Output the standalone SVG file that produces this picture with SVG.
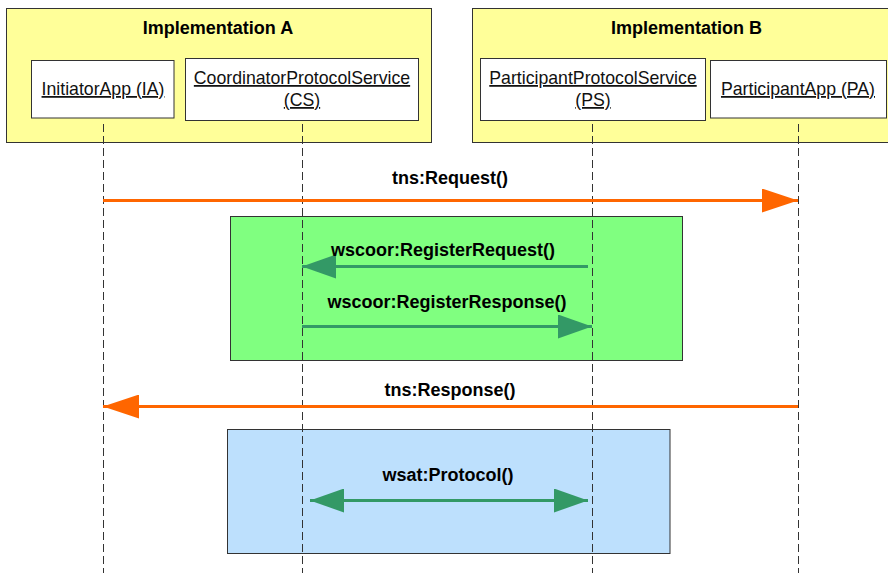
<svg xmlns="http://www.w3.org/2000/svg" width="888" height="573" viewBox="0 0 888 573">
<style>
.frame{fill:#FFFF99;stroke:#333;stroke-width:1}
.box{fill:#fff;stroke:#333;stroke-width:1}
.title{font-family:"Liberation Sans",Arial,sans-serif;font-weight:bold;font-size:18px;text-anchor:middle;fill:#000}
.lbl{font-family:"Liberation Sans",Arial,sans-serif;font-size:17.7px;text-anchor:middle;fill:#111;text-decoration:underline}
.msg{font-family:"Liberation Sans",Arial,sans-serif;font-weight:bold;font-size:18px;text-anchor:middle;fill:#000}
.life{stroke:#333;stroke-width:1;stroke-dasharray:8 4;fill:none}
.orange{stroke:#FF6600;stroke-width:3;fill:none}
.green{stroke:#339966;stroke-width:3;fill:none}
</style>
<defs>
<marker id="ao" viewBox="0 0 36 24" refX="36" refY="12" markerWidth="36" markerHeight="24" markerUnits="userSpaceOnUse" orient="auto-start-reverse">
<path d="M0,0 L36,12 L0,24 z" fill="#FF6600"/>
</marker>
<marker id="ag" viewBox="0 0 34 24" refX="34" refY="12" markerWidth="34" markerHeight="24" markerUnits="userSpaceOnUse" orient="auto-start-reverse">
<path d="M0,0 L34,12 L0,24 z" fill="#339966"/>
</marker>
</defs>
<rect width="888" height="573" fill="#fff"/>
<g id="implA">
<rect class="frame" x="6.5" y="8.5" width="425" height="134"/>
<text class="title" x="218" y="34">Implementation A</text>
</g>
<g id="implB">
<rect class="frame" x="472.5" y="8.5" width="430" height="134"/>
<text class="title" x="686.5" y="34">Implementation B</text>
</g>
<g id="IA">
<rect class="box" x="31.5" y="60.5" width="142.5" height="57.5"/>
<text class="lbl" x="103" y="95">InitiatorApp (IA)</text>
</g>
<g id="CS">
<rect class="box" x="185.5" y="58.5" width="233" height="62"/>
<text class="lbl" x="302" y="84">CoordinatorProtocolService</text>
<text class="lbl" x="302" y="106">(CS)</text>
</g>
<g id="PS">
<rect class="box" x="480.5" y="58.5" width="225" height="62"/>
<text class="lbl" x="593" y="84">ParticipantProtocolService</text>
<text class="lbl" x="593" y="106">(PS)</text>
</g>
<g id="PA">
<rect class="box" x="710.5" y="60.5" width="176" height="57.5"/>
<text class="lbl" x="798" y="95">ParticipantApp (PA)</text>
</g>
<g id="registration">
<rect x="230.5" y="216.5" width="452" height="144" fill="#80FF80" stroke="#333" stroke-width="1"/>
</g>
<g id="protocol">
<rect x="227.5" y="429.5" width="442.5" height="124" fill="#BDE0FD" stroke="#333" stroke-width="1"/>
</g>
<g id="lifelines">
<line class="life" x1="103.5" y1="124" x2="103.5" y2="573"/>
<line class="life" x1="302.5" y1="124" x2="302.5" y2="573"/>
<line class="life" x1="592.5" y1="124" x2="592.5" y2="573"/>
<line class="life" x1="798.5" y1="124" x2="798.5" y2="573"/>
</g>
<g id="connectors">
<line class="orange" x1="103" y1="200.5" x2="798" y2="200.5" marker-end="url(#ao)"/>
<text class="msg" x="450" y="184">tns:Request()</text>
<line class="green" x1="588" y1="266.5" x2="302" y2="266.5" marker-end="url(#ag)"/>
<text class="msg" x="443" y="256">wscoor:RegisterRequest()</text>
<line class="green" x1="302" y1="326.5" x2="592" y2="326.5" marker-end="url(#ag)"/>
<text class="msg" x="447" y="308">wscoor:RegisterResponse()</text>
<line class="orange" x1="798" y1="406.5" x2="103" y2="406.5" marker-end="url(#ao)"/>
<text class="msg" x="450" y="396">tns:Response()</text>
<line class="green" x1="310" y1="500.5" x2="588" y2="500.5" marker-start="url(#ag)" marker-end="url(#ag)"/>
<text class="msg" x="448" y="481">wsat:Protocol()</text>
</g>
</svg>
